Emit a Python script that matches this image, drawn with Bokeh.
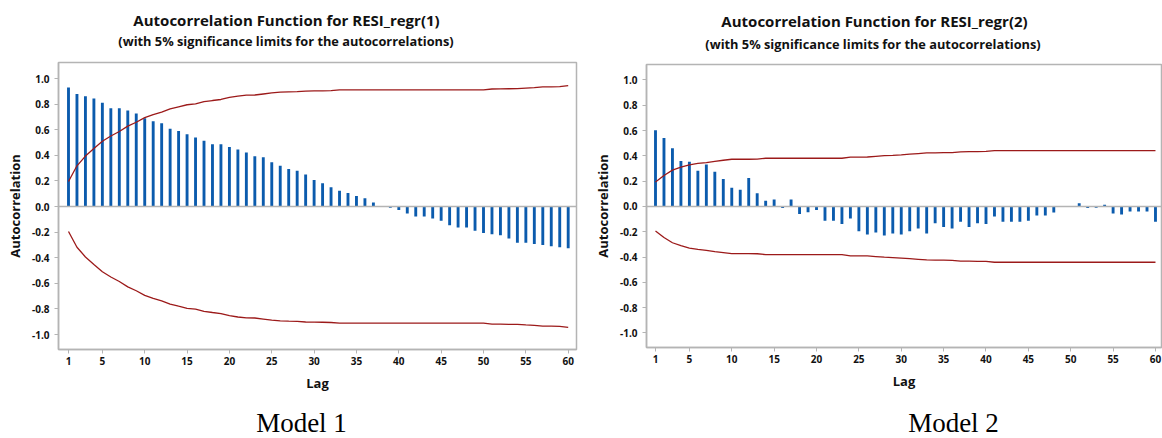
from bokeh.plotting import figure
from bokeh.models import Span, FixedTicker, PrintfTickFormatter, Range1d, Label
from bokeh.layouts import row, column
from bokeh.embed import file_html
from bokeh.resources import INLINE

lags = list(range(1, 61))

acf1 = [0.93, 0.878, 0.862, 0.844, 0.81, 0.768, 0.768, 0.75, 0.727, 0.69,
        0.667, 0.651, 0.607, 0.589, 0.565, 0.539, 0.513, 0.487, 0.487, 0.464,
        0.445, 0.422, 0.393, 0.385, 0.346, 0.318, 0.294, 0.279, 0.25, 0.208,
        0.182, 0.15, 0.123, 0.105, 0.082, 0.065, 0.031, 0.0, -0.009, -0.028,
        -0.054, -0.078, -0.078, -0.094, -0.112, -0.146, -0.164, -0.164, -0.19, -0.206,
        -0.216, -0.224, -0.25, -0.284, -0.284, -0.292, -0.3, -0.31, -0.318, -0.326]

lim1 = [0.195, 0.318, 0.394, 0.453, 0.51, 0.551, 0.586, 0.628, 0.658, 0.694,
        0.718, 0.737, 0.762, 0.779, 0.795, 0.801, 0.819, 0.828, 0.836, 0.853,
        0.863, 0.87, 0.871, 0.879, 0.887, 0.894, 0.896, 0.897, 0.902, 0.903,
        0.904, 0.906, 0.911, 0.911, 0.911, 0.911, 0.911, 0.911, 0.911, 0.911,
        0.911, 0.911, 0.911, 0.911, 0.911, 0.911, 0.911, 0.911, 0.911, 0.911,
        0.918, 0.919, 0.92, 0.921, 0.925, 0.928, 0.934, 0.935, 0.936, 0.944]

acf2 = [0.603, 0.542, 0.46, 0.36, 0.353, 0.282, 0.332, 0.274, 0.216, 0.147,
        0.132, 0.224, 0.105, 0.045, 0.055, -0.013, 0.055, -0.06, -0.045, -0.029,
        -0.113, -0.113, -0.139, -0.095, -0.197, -0.221, -0.205, -0.229, -0.213, -0.221,
        -0.197, -0.174, -0.213, -0.132, -0.163, -0.174, -0.121, -0.163, -0.132, -0.139,
        -0.079, -0.121, -0.121, -0.121, -0.113, -0.071, -0.071, -0.047, 0.0, 0.0,
        0.026, -0.013, -0.01, 0.013, -0.055, -0.063, -0.039, -0.039, -0.039, -0.121]

lim2 = [0.194, 0.245, 0.287, 0.31, 0.329, 0.34, 0.347, 0.357, 0.365, 0.373,
        0.373, 0.373, 0.374, 0.381, 0.381, 0.381, 0.381, 0.381, 0.381, 0.381,
        0.381, 0.381, 0.381, 0.39, 0.39, 0.391, 0.396, 0.401, 0.404, 0.408,
        0.413, 0.418, 0.423, 0.424, 0.425, 0.426, 0.432, 0.433, 0.434, 0.435,
        0.441, 0.441, 0.441, 0.441, 0.441, 0.441, 0.441, 0.441, 0.441, 0.441,
        0.441, 0.441, 0.441, 0.441, 0.441, 0.441, 0.441, 0.441, 0.441, 0.441]

x_ticks = [1, 5, 10, 15, 20, 25, 30, 35, 40, 45, 50, 55, 60]
y_ticks = [-1.0, -0.8, -0.6, -0.4, -0.2, 0.0, 0.2, 0.4, 0.6, 0.8, 1.0]

titles = ["Autocorrelation Function for RESI_regr(1)",
          "Autocorrelation Function for RESI_regr(2)"]
subtitle = "(with 5% significance limits for the autocorrelations)"
models = ["Model 1", "Model 2"]
x_label = "Lag"
y_label = "Autocorrelation"

SANS = "Open Sans"
BAR = "#0B5BAD"
LIM = "#9C1A1A"
GRAY = "#B4B4B4"
INK = "#111111"

HEAD_H = 60
MAIN_H = 340
FOOT_H = 38


def blank(width, height, bl, br):
    # frames of a column are aligned with the main plot's frame, so the
    # x range spans the same horizontal extent (panel-relative pixels)
    f = figure(width=width, height=height, output_backend="svg", toolbar_location=None,
               title=None, x_range=Range1d(bl, width - br), y_range=Range1d(0, height),
               x_axis_location=None, y_axis_location=None,
               min_border_left=bl, min_border_right=br, min_border_top=0, min_border_bottom=0)
    f.grid.visible = False
    f.outline_line_color = None
    return f


def panel(acf, lim, title, model, width, borders, xr, yr, tpos, spos, mx):
    bl, br, bt, bb = borders
    head = blank(width, HEAD_H, bl, br)
    head.add_layout(Label(x=tpos[0], y=HEAD_H - tpos[1], text=title, text_font=SANS,
                          text_font_size="15px", text_font_style="bold",
                          text_align="center", text_baseline="middle", text_color=INK))
    head.add_layout(Label(x=spos[0], y=HEAD_H - spos[1], text=subtitle, text_font=SANS,
                          text_font_size="12.8px", text_font_style="bold",
                          text_align="center", text_baseline="middle", text_color=INK))

    p = figure(width=width, height=MAIN_H, output_backend="svg", toolbar_location=None,
               title=None, x_range=Range1d(*xr), y_range=Range1d(*yr),
               min_border_left=bl, min_border_right=br,
               min_border_top=bt, min_border_bottom=bb)
    p.xgrid.visible = False
    p.ygrid.visible = False
    p.outline_line_color = GRAY
    p.outline_line_width = 1.5

    p.add_layout(Span(location=0, dimension="width", line_color=GRAY, line_width=1.5))
    p.vbar(x=lags, top=acf, bottom=0, width=0.34, fill_color=BAR, line_color=None)
    p.line(lags, lim, line_color=LIM, line_width=1.3)
    p.line(lags, [-v for v in lim], line_color=LIM, line_width=1.3)

    for ax in (p.xaxis[0], p.yaxis[0]):
        ax.axis_line_color = GRAY
        ax.axis_line_width = 1.5
        ax.major_tick_line_color = GRAY
        ax.major_tick_out = 4
        ax.major_tick_in = 0
        ax.minor_tick_line_color = None
        ax.major_label_text_font = SANS
        ax.major_label_text_font_size = "10px"
        ax.major_label_text_font_style = "bold"
        ax.major_label_text_color = INK
        ax.axis_label_text_font = SANS
        ax.axis_label_text_font_size = "13px"
        ax.axis_label_text_font_style = "bold"
        ax.axis_label_text_color = INK
    p.xaxis.major_label_standoff = 3
    p.yaxis.major_label_standoff = 5
    p.xaxis.ticker = FixedTicker(ticks=x_ticks)
    p.yaxis.ticker = FixedTicker(ticks=y_ticks)
    p.yaxis.formatter = PrintfTickFormatter(format="%.1f")
    p.xaxis.axis_label = x_label
    p.yaxis.axis_label = y_label
    p.xaxis.axis_label_standoff = 6
    p.yaxis.axis_label_standoff = 5

    foot = blank(width, FOOT_H, bl, br)
    foot.add_layout(Label(x=mx, y=16, text=model, text_font="Liberation Serif",
                          text_font_size="27px", text_align="center",
                          text_baseline="middle", text_color="#000000"))
    return column(head, p, foot, spacing=0)


c1 = panel(acf1, lim1, titles[0], models[0], 590, (58, 14, 2, 51),
           (-0.18, 60.98), (-1.117, 1.125), (286, 19), (285.5, 40), 301)
c2 = panel(acf2, lim2, titles[1], models[1], 572, (56, 1, 4, 53),
           (-0.062, 60.71), (-1.115, 1.122), (284, 20), (282.5, 43), 363)

layout = row(c1, c2, spacing=0)
open("out.html", "w").write(file_html(layout, INLINE))
